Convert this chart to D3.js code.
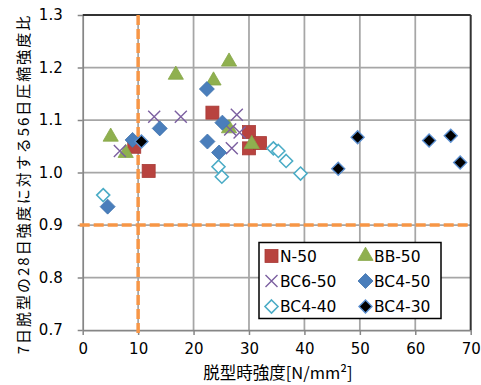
<!DOCTYPE html>
<html>
<head>
<meta charset="utf-8">
<script src="https://cdn.jsdelivr.net/npm/d3@7"></script>
<style>
  html, body { margin: 0; padding: 0; background: #fff; }
  svg { display: block; }
  text { font-family: "DejaVu Sans", "Liberation Sans", Arial, sans-serif; fill: #000; }
  .cjk { font-family: "Noto Sans CJK JP", "Liberation Sans", sans-serif; }
</style>
</head>
<body>
<svg id="chart" width="481" height="385"></svg>
<script>
// Demolding strength [N/mm2] vs. strength ratio, one pair of arrays per mix
const n50X   = [9.3, 11.9, 23.4, 30.0, 30.0, 32.0];
const n50Y   = [1.049, 1.003, 1.114, 1.077, 1.046, 1.056];
const bb50X  = [5.05, 7.76, 16.8, 23.6, 26.4, 26.4, 30.5];
const bb50Y  = [1.068, 1.037, 1.186, 1.175, 1.211, 1.084, 1.054];
const bc650X = [6.7, 12.9, 17.7, 27.8, 26.6, 28.3, 26.9];
const bc650Y = [1.041, 1.106, 1.106, 1.110, 1.082, 1.076, 1.046];
const bc450X = [9.0, 13.9, 22.4, 25.2, 22.5, 24.6, 4.5];
const bc450Y = [1.062, 1.084, 1.159, 1.095, 1.059, 1.038, 0.935];
const bc440X = [3.7, 24.5, 25.1, 34.4, 35.3, 36.7, 39.3];
const bc440Y = [0.957, 1.011, 0.992, 1.046, 1.041, 1.022, 0.998];
const bc430X = [10.6, 49.6, 46.1, 62.5, 66.4, 68.1];
const bc430Y = [1.059, 1.067, 1.007, 1.061, 1.070, 1.019];

const seriesNames = ["N-50", "BB-50", "BC6-50", "BC4-50", "BC4-40", "BC4-30"];
const xTicks = [0, 10, 20, 30, 40, 50, 60, 70];
const yTicks = [0.7, 0.8, 0.9, 1.0, 1.1, 1.2, 1.3];
const refX = 10;   // demolding strength threshold
const refY = 0.9;  // strength ratio threshold

const xTitle = "脱型時強度[N/mm²]";
const yTitle = "7日脱型の28日強度に対する56日圧縮強度比";

const series = [
  { name: seriesNames[0], xs: n50X,   ys: n50Y,   shape: "square" },
  { name: seriesNames[1], xs: bb50X,  ys: bb50Y,  shape: "triangle" },
  { name: seriesNames[2], xs: bc650X, ys: bc650Y, shape: "cross" },
  { name: seriesNames[3], xs: bc450X, ys: bc450Y, shape: "diamond" },
  { name: seriesNames[4], xs: bc440X, ys: bc440Y, shape: "openDiamond" },
  { name: seriesNames[5], xs: bc430X, ys: bc430Y, shape: "blackDiamond" }
];

const svg = d3.select("#chart");
const pLeft = 82.7, pRight = 470.7, pTop = 15, pBottom = 330;

const x = d3.scaleLinear().domain([0, 70]).range([pLeft, pRight]);
const y = d3.scaleLinear().domain([0.7, 1.3]).range([pBottom, pTop]);

// gridlines
const grid = svg.append("g");
grid.selectAll("line.v").data(xTicks.filter(t => t > 0 && t < 70)).join("line")
  .attr("class", "v")
  .attr("x1", d => x(d)).attr("x2", d => x(d))
  .attr("y1", pTop).attr("y2", pBottom)
  .attr("stroke", "#a6a6a6").attr("stroke-width", 1.75);
grid.selectAll("line.h").data(yTicks.filter(t => t > 0.7 && t < 1.3)).join("line")
  .attr("class", "h")
  .attr("x1", pLeft).attr("x2", pRight)
  .attr("y1", d => y(d)).attr("y2", d => y(d))
  .attr("stroke", "#a6a6a6").attr("stroke-width", 1.75);

// axes
const xAxis = svg.append("g").attr("transform", `translate(0,${pBottom})`)
  .call(d3.axisBottom(x).tickValues(xTicks).tickFormat(d3.format("d")).tickSizeInner(5).tickSizeOuter(0).tickPadding(8));
const yAxis = svg.append("g").attr("transform", `translate(${pLeft},0)`)
  .call(d3.axisLeft(y).tickValues(yTicks).tickFormat(d3.format(".1f")).tickSizeInner(5).tickSizeOuter(0).tickPadding(15));
[xAxis, yAxis].forEach(a => {
  a.select(".domain").attr("stroke", "#868686").attr("stroke-width", 1.75);
  a.selectAll(".tick line").attr("stroke", "#868686").attr("stroke-width", 1.5);
  a.selectAll(".tick text").attr("font-size", 15).attr("fill", "#000")
    .attr("font-family", "DejaVu Sans, Liberation Sans, sans-serif");
});

// top and right frame
svg.append("line").attr("x1", pLeft).attr("x2", pRight).attr("y1", y(1.3)).attr("y2", y(1.3))
  .attr("stroke", "#333").attr("stroke-width", 2);
svg.append("line").attr("x1", x(70)).attr("x2", x(70)).attr("y1", pTop).attr("y2", pBottom)
  .attr("stroke", "#333").attr("stroke-width", 2);

// threshold lines
const refColor = "#f79646";
svg.append("line").attr("x1", x(refX)).attr("x2", x(refX)).attr("y1", pTop).attr("y2", pBottom + 4)
  .attr("stroke", refColor).attr("stroke-width", 3.5).attr("stroke-dasharray", "10,4");
svg.append("line").attr("x1", pLeft - 3).attr("x2", pRight).attr("y1", y(refY)).attr("y2", y(refY))
  .attr("stroke", refColor).attr("stroke-width", 3.5).attr("stroke-dasharray", "10,4");

// marker drawing
function drawMarker(g, shape) {
  switch (shape) {
    case "square":
      g.append("rect").attr("x", -6.5).attr("y", -6.5).attr("width", 13).attr("height", 13)
        .attr("fill", "#b8433f").attr("stroke", "#a83a36").attr("stroke-width", 0.8);
      break;
    case "triangle":
      g.append("path").attr("d", d3.symbol(d3.symbolTriangle, 100)())
        .attr("fill", "#8fb04f").attr("stroke", "#86a748").attr("stroke-width", 0.8);
      break;
    case "cross":
      g.append("path").attr("d", "M-6,-6L6,6M-6,6L6,-6")
        .attr("stroke", "#7b5fa0").attr("stroke-width", 1.4).attr("fill", "none");
      break;
    case "diamond":
      g.append("path").attr("d", "M0,-7.5L7.5,0L0,7.5L-7.5,0Z")
        .attr("fill", "#4a7ebb").attr("stroke", "#3f72ad").attr("stroke-width", 0.8);
      break;
    case "openDiamond":
      g.append("path").attr("d", "M0,-6.5L6.5,0L0,6.5L-6.5,0Z")
        .attr("fill", "#fff").attr("stroke", "#4bacc6").attr("stroke-width", 1.6);
      break;
    case "blackDiamond":
      g.append("path").attr("d", "M0,-6.5L6.5,0L0,6.5L-6.5,0Z")
        .attr("fill", "#000").attr("stroke", "#5b8fd0").attr("stroke-width", 1.4);
      break;
  }
}

// points
series.forEach(s => {
  const pts = s.xs.map((v, i) => [v, s.ys[i]]);
  svg.append("g").selectAll("g").data(pts).join("g")
    .attr("transform", d => `translate(${x(d[0])},${y(d[1])})`)
    .each(function () { drawMarker(d3.select(this), s.shape); });
});

// legend
const lg = svg.append("g");
lg.append("rect").attr("x", 259).attr("y", 242.5).attr("width", 182).attr("height", 76)
  .attr("fill", "#fff").attr("stroke", "#000").attr("stroke-width", 1.5);
const colX = [271.5, 365.5];
const rowY = [256, 281, 306.5];
series.forEach((s, i) => {
  const cx = colX[i % 2], cy = rowY[Math.floor(i / 2)];
  const g = lg.append("g").attr("transform", `translate(${cx},${cy})`);
  drawMarker(g, s.shape);
  lg.append("text").attr("x", cx + 8.5).attr("y", cy).attr("dy", "0.36em")
    .attr("font-size", 15.5).text(s.name);
});

// axis titles
svg.append("text").attr("class", "cjk").attr("x", 278).attr("y", 379)
  .attr("text-anchor", "middle").attr("font-size", 16.5).text(xTitle);
svg.append("text").attr("class", "cjk")
  .attr("transform", `translate(24,184) rotate(-90)`)
  .attr("text-anchor", "middle").attr("dy", "0.35em").attr("font-size", 15)
  .attr("letter-spacing", 2).text(yTitle);
</script>
</body>
</html>
